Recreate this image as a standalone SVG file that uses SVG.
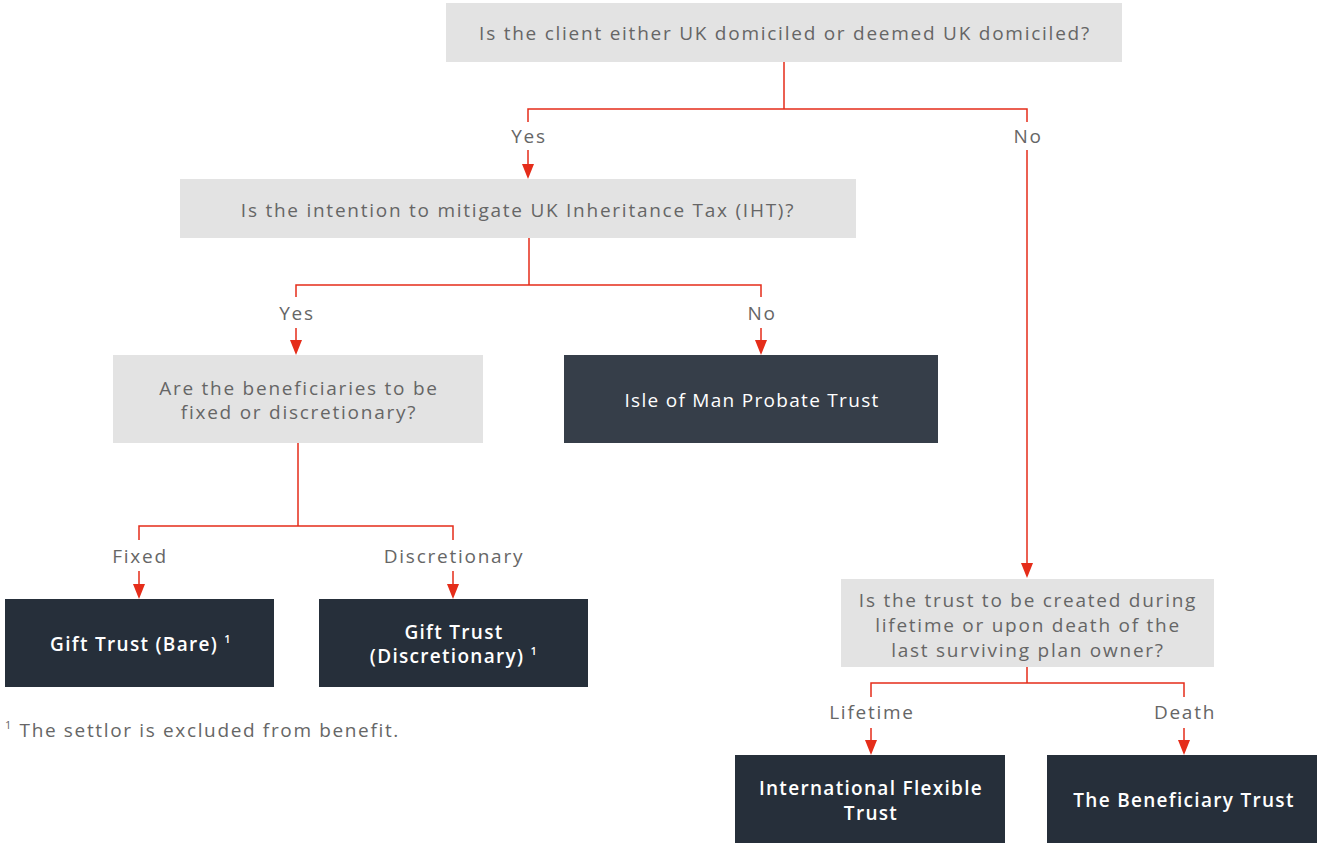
<svg xmlns="http://www.w3.org/2000/svg" width="1317" height="843" viewBox="0 0 1317 843">
<defs>
<style>
.q{fill:#e3e3e3}
.d{fill:#262f3a}
.d2{fill:#363e49}
text{font-family:"Open Sans","Liberation Sans",sans-serif;text-anchor:middle}
.qt{fill:#666;font-size:19px;letter-spacing:1.75px}
.lb{fill:#666;font-size:19px;letter-spacing:1.75px}
.wt{fill:#fff;font-size:19px;font-weight:600;letter-spacing:1.3px}
.wn{fill:#fff;font-size:19px;letter-spacing:1.3px}
.c{fill:none;stroke:#e52d1a;stroke-width:1.5}
.ar{fill:#e52d1a}
</style>
</defs>
<g id="connectors">
<path class="c" d="M784,62 V109 M528,122 V109 H1027 V122"/>
<path class="c" d="M528,150 V166 M1027,150 V566"/>
<path class="c" d="M529,238 V285 M296,297 V285 H761 V297"/>
<path class="c" d="M296,328 V342 M761,328 V342"/>
<path class="c" d="M298,443 V526 M139,540 V526 H453 V540"/>
<path class="c" d="M139,571 V586 M453,571 V586"/>
<path class="c" d="M1027,667 V683 M871,697 V683 H1184 V697"/>
<path class="c" d="M871,728 V742 M1184,728 V742"/>
<g class="ar">
<path d="M522,164 L534,164 L528,179 Z"/>
<path d="M1021,563 L1033,563 L1027,578 Z"/>
<path d="M290,340 L302,340 L296,355 Z"/>
<path d="M755,340 L767,340 L761,355 Z"/>
<path d="M133,584 L145,584 L139,599 Z"/>
<path d="M447,584 L459,584 L453,599 Z"/>
<path d="M865,740 L877,740 L871,755 Z"/>
<path d="M1178,740 L1190,740 L1184,755 Z"/>
</g>
<text class="lb" x="529" y="143">Yes</text>
<text class="lb" x="1028" y="143">No</text>
<text class="lb" x="297" y="320">Yes</text>
<text class="lb" x="762" y="320">No</text>
<text class="lb" x="140" y="563">Fixed</text>
<text class="lb" x="454" y="563">Discretionary</text>
<text class="lb" x="872" y="719">Lifetime</text>
<text class="lb" x="1185" y="719">Death</text>
</g>
<g id="q1"><rect class="q" x="446" y="3" width="676" height="59"/><text class="qt" x="785" y="40">Is the client either UK domiciled or deemed UK domiciled?</text></g>
<g id="q2"><rect class="q" x="180" y="179" width="676" height="59"/><text class="qt" x="518" y="217">Is the intention to mitigate UK Inheritance Tax (IHT)?</text></g>
<g id="q3"><rect class="q" x="113" y="355" width="370" height="88"/><text class="qt" x="299" y="395">Are the beneficiaries to be</text><text class="qt" x="299" y="419">fixed or discretionary?</text></g>
<g id="iom"><rect class="d2" x="564" y="355" width="374" height="88"/><text class="wn" x="752" y="407">Isle of Man Probate Trust</text></g>
<g id="giftbare"><rect class="d" x="5" y="599" width="269" height="88"/><text class="wt" x="141" y="651">Gift Trust (Bare) <tspan font-size="11" dy="-8">1</tspan></text></g>
<g id="giftdisc"><rect class="d" x="319" y="599" width="269" height="88"/><text class="wt" x="454" y="639">Gift Trust</text><text class="wt" x="454" y="663">(Discretionary) <tspan font-size="11" dy="-8">1</tspan></text></g>
<g id="q4"><rect class="q" x="841" y="579" width="373" height="88"/><text class="qt" x="1028" y="607">Is the trust to be created during</text><text class="qt" x="1028" y="632">lifetime or upon death of the</text><text class="qt" x="1028" y="657">last surviving plan owner?</text></g>
<g id="ift"><rect class="d" x="735" y="755" width="270" height="88"/><text class="wt" x="871" y="795">International Flexible</text><text class="wt" x="871" y="820">Trust</text></g>
<g id="bt"><rect class="d" x="1047" y="755" width="270" height="88"/><text class="wt" x="1184" y="807">The Beneficiary Trust</text></g>
<g id="footnote"><text style="text-anchor:start;fill:#666;font-size:19px;letter-spacing:1.65px" x="5" y="737"><tspan font-size="11" dy="-8">1</tspan><tspan dy="8"> The settlor is excluded from benefit.</tspan></text></g>
</svg>
